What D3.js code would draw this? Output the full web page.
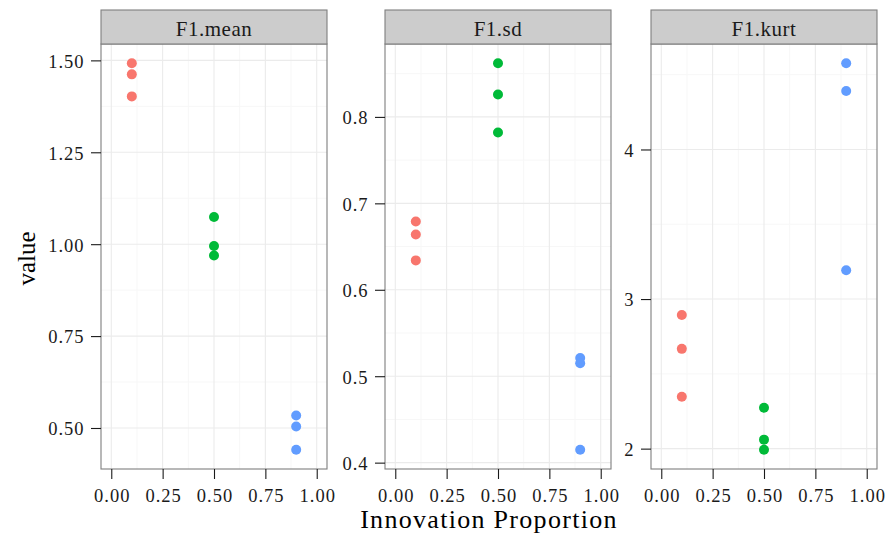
<!DOCTYPE html>
<html>
<head>
<meta charset="utf-8">
<script src="https://cdn.jsdelivr.net/npm/d3@7"></script>
<style>
  html, body { margin: 0; padding: 0; background: #ffffff; }
  svg { display: block; }
  svg text { font-family: "Liberation Serif", "DejaVu Serif", serif; }
</style>
</head>
<body>
<svg id="chart" width="888" height="537"></svg>
<script>
// Innovation proportion levels (one colour each)
const innovation = [0.1, 0.5, 0.9];
const levelColors = ["#F8766D", "#00BA38", "#619CFF"];

// Facet names
const facets = ["F1.mean", "F1.sd", "F1.kurt"];

// Values per facet: one row per innovation level, three replicates each
const meanValues = [[1.492, 1.462, 1.402], [1.074, 0.995, 0.969], [0.534, 0.504, 0.441]];
const sdValues   = [[0.679, 0.664, 0.634], [0.862, 0.826, 0.782], [0.521, 0.515, 0.415]];
const kurtValues = [[2.893, 2.667, 2.347], [2.273, 2.060, 1.993], [4.576, 4.391, 3.193]];

// Axis ticks
const xTicks = [0, 0.25, 0.5, 0.75, 1];
const xTickLabels = ["0.00", "0.25", "0.50", "0.75", "1.00"];
const meanTicks = [0.5, 0.75, 1.0, 1.25, 1.5];
const meanTickLabels = ["0.50", "0.75", "1.00", "1.25", "1.50"];
const sdTicks = [0.4, 0.5, 0.6, 0.7, 0.8];
const sdTickLabels = ["0.4", "0.5", "0.6", "0.7", "0.8"];
const kurtTicks = [2, 3, 4];
const kurtTickLabels = ["2", "3", "4"];

const panels = [
  { name: facets[0], values: meanValues, ticks: meanTicks, labels: meanTickLabels },
  { name: facets[1], values: sdValues,   ticks: sdTicks,   labels: sdTickLabels },
  { name: facets[2], values: kurtValues, ticks: kurtTicks, labels: kurtTickLabels }
];

// Layout
const panelLeft = [101, 385, 651];
const panelWidth = 226;
const stripTop = 10, panelTop = 44, panelBottom = 469;
const tickLen = 10;
const serif = '"Liberation Serif", "DejaVu Serif", serif';

const svg = d3.select("#chart");

// Shared x scale domain: limits 0..1 expanded by 5%
const xDomain = [-0.05, 1.05];

function expand(ext) {
  const pad = (ext[1] - ext[0]) * 0.05;
  return [ext[0] - pad, ext[1] + pad];
}

function midpoints(ticks, domain) {
  const step = ticks[1] - ticks[0];
  const out = [];
  for (let i = -1; i < ticks.length; i++) {
    const m = ticks[0] + step * (i + 0.5);
    if (m > domain[0] && m < domain[1]) out.push(m);
  }
  return out;
}

panels.forEach((p, pi) => {
  const left = panelLeft[pi];
  const x = d3.scaleLinear().domain(xDomain).range([left, left + panelWidth]);
  const flat = p.values.flat();
  const yDomain = expand(d3.extent(flat));
  const y = d3.scaleLinear().domain(yDomain).range([panelBottom, panelTop]);

  const g = svg.append("g");

  // panel background
  g.append("rect")
    .attr("x", left).attr("y", panelTop)
    .attr("width", panelWidth).attr("height", panelBottom - panelTop)
    .attr("fill", "#ffffff");

  // minor grid
  const xMinor = midpoints(xTicks, xDomain);
  const yMinor = midpoints(p.ticks, yDomain);
  g.selectAll(".xminor").data(xMinor).enter().append("line")
    .attr("x1", d => x(d)).attr("x2", d => x(d))
    .attr("y1", panelTop).attr("y2", panelBottom)
    .attr("stroke", "#f7f7f7").attr("stroke-width", 1);
  g.selectAll(".yminor").data(yMinor).enter().append("line")
    .attr("x1", left).attr("x2", left + panelWidth)
    .attr("y1", d => y(d)).attr("y2", d => y(d))
    .attr("stroke", "#f7f7f7").attr("stroke-width", 1);

  // major grid
  g.selectAll(".xmajor").data(xTicks).enter().append("line")
    .attr("x1", d => x(d)).attr("x2", d => x(d))
    .attr("y1", panelTop).attr("y2", panelBottom)
    .attr("stroke", "#ebebeb").attr("stroke-width", 1.1);
  g.selectAll(".ymajor").data(p.ticks).enter().append("line")
    .attr("x1", left).attr("x2", left + panelWidth)
    .attr("y1", d => y(d)).attr("y2", d => y(d))
    .attr("stroke", "#ebebeb").attr("stroke-width", 1.1);

  // points
  innovation.forEach((lvl, li) => {
    g.selectAll(".pt" + li).data(p.values[li]).enter().append("circle")
      .attr("cx", x(lvl)).attr("cy", d => y(d))
      .attr("r", 5)
      .attr("fill", levelColors[li]);
  });

  // panel border
  g.append("rect")
    .attr("x", left).attr("y", panelTop)
    .attr("width", panelWidth).attr("height", panelBottom - panelTop)
    .attr("fill", "none").attr("stroke", "#7f7f7f").attr("stroke-width", 1.1);

  // strip
  g.append("rect")
    .attr("x", left).attr("y", stripTop)
    .attr("width", panelWidth).attr("height", panelTop - stripTop)
    .attr("fill", "#cccccc").attr("stroke", "#7f7f7f").attr("stroke-width", 1.1);
  g.append("text")
    .attr("x", left + panelWidth / 2).attr("y", 36)
    .attr("text-anchor", "middle")
    .style("font-family", serif)
    .style("font-size", "21px").style("letter-spacing", "0.5px")
    .attr("fill", "#1a1a1a")
    .text(p.name);

  // y axis
  const yAxis = d3.axisLeft(y)
    .tickValues(p.ticks)
    .tickFormat((d, i) => p.labels[i])
    .tickSize(tickLen).tickPadding(6.5);
  const ya = svg.append("g").attr("transform", `translate(${left},0)`).call(yAxis);
  ya.select(".domain").remove();
  ya.selectAll(".tick line").attr("stroke", "#1a1a1a").attr("stroke-width", 1.1);
  ya.selectAll(".tick text")
    .attr("dy", "0.37em")
    .style("font-family", serif)
    .style("font-size", "18.5px").style("letter-spacing", "1px")
    .attr("fill", "#1a1a1a");

  // x axis
  const xAxis = d3.axisBottom(x)
    .tickValues(xTicks)
    .tickFormat((d, i) => xTickLabels[i])
    .tickSize(tickLen).tickPadding(10);
  const xa = svg.append("g").attr("transform", `translate(0,${panelBottom})`).call(xAxis);
  xa.select(".domain").remove();
  xa.selectAll(".tick line").attr("stroke", "#1a1a1a").attr("stroke-width", 1.1);
  xa.selectAll(".tick text")
    .style("font-family", serif)
    .style("font-size", "18.5px").style("letter-spacing", "1px")
    .attr("dx", "0.5px")
    .attr("fill", "#1a1a1a");
});

// axis titles
svg.append("text")
  .attr("x", (panelLeft[0] + panelLeft[2] + panelWidth) / 2).attr("y", 528)
  .attr("text-anchor", "middle")
  .style("font-family", serif)
  .style("font-size", "26px").style("letter-spacing", "1.3px")
  .attr("fill", "#000")
  .text("Innovation Proportion");

svg.append("text")
  .attr("transform", `translate(35,${(panelTop + panelBottom) / 2 + 2}) rotate(-90)`)
  .attr("text-anchor", "middle")
  .style("font-family", serif)
  .style("font-size", "25px")
  .attr("fill", "#000")
  .text("value");
</script>
</body>
</html>
